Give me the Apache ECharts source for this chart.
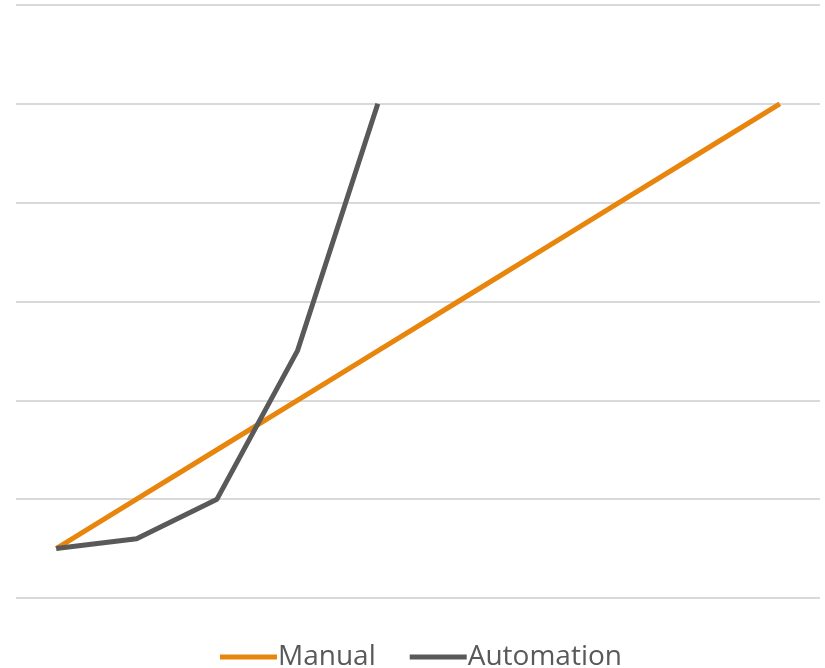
<!DOCTYPE html>
<html><head><meta charset="utf-8">
<script src="https://cdn.jsdelivr.net/npm/echarts@6/dist/echarts.min.js"></script>
<style>html,body{margin:0;padding:0;background:#fff}#c{width:825px;height:668px}</style>
</head><body><div id="c"></div>
<script>
const categories = ['1','2','3','4','5','6','7','8','9','10'];
const manual = [0.5,1,1.5,2,2.5,3,3.5,4,4.5,5];
const automation = [0.5,0.6,1,2.5,5,null,null,null,null,null];
const chart = echarts.init(document.getElementById('c'));
chart.setOption({
  animation:false,
  grid:{left:16,right:5,top:5,bottom:70,containLabel:false},
  legend:{top:638,left:215,itemWidth:57,itemHeight:5,itemGap:34,
    icon:'path://M0,0 L57,0 L57,5 L0,5 Z',
    textStyle:{fontFamily:'Open Sans',fontSize:28,color:'#595959',padding:[0,0,0,-4]},
    data:['Manual','Automation']},
  xAxis:{type:'category',data:categories,boundaryGap:true,axisLine:{show:false},axisTick:{show:false},axisLabel:{show:false}},
  yAxis:{type:'value',min:0,max:6,interval:1,axisLabel:{show:false},axisLine:{show:false},axisTick:{show:false},
    splitLine:{lineStyle:{color:'#d9d9d9',width:2}}},
  series:[
    {name:'Manual',type:'line',data:manual,symbol:'none',lineStyle:{color:'#E8850C',width:5},itemStyle:{color:'#E8850C'}},
    {name:'Automation',type:'line',data:automation,symbol:'none',lineStyle:{color:'#595959',width:5},itemStyle:{color:'#595959'}}
  ]
});
</script></body></html>
